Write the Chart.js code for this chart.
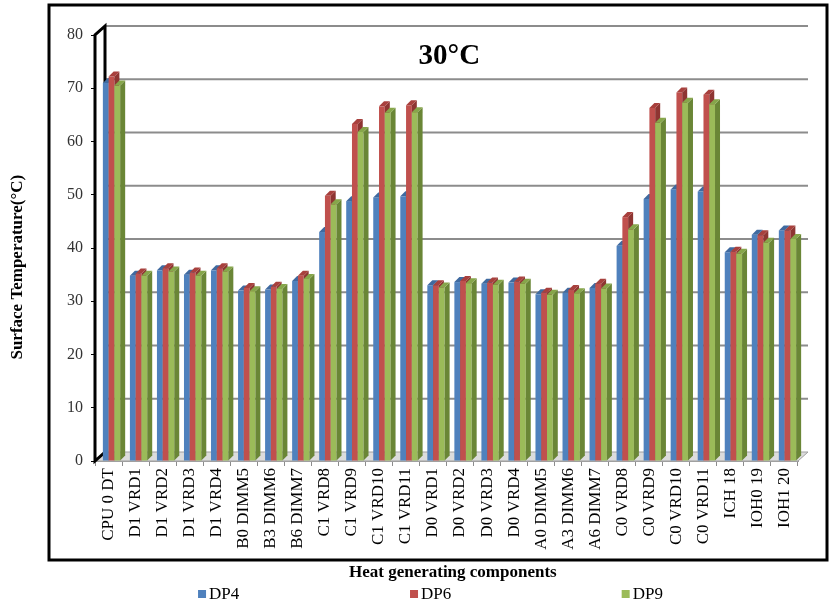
<!DOCTYPE html>
<html>
<head>
<meta charset="utf-8">
<script src="https://cdn.jsdelivr.net/npm/chart.js@4"></script>
<style>
html, body { margin: 0; padding: 0; background: #fff; }
</style>
</head>
<body>
<canvas id="chart" width="830" height="608"></canvas>
<script>
const categories = ['CPU 0 DT', 'D1 VRD1', 'D1 VRD2', 'D1 VRD3', 'D1 VRD4', 'B0 DIMM5', 'B3 DIMM6', 'B6 DIMM7',
    'C1 VRD8', 'C1 VRD9', 'C1 VRD10', 'C1 VRD11', 'D0 VRD1', 'D0 VRD2', 'D0 VRD3', 'D0 VRD4',
    'A0 DIMM5', 'A3 DIMM6', 'A6 DIMM7', 'C0 VRD8', 'C0 VRD9', 'C0 VRD10', 'C0 VRD11', 'ICH 18', 'IOH0 19', 'IOH1 20']
const dp4 = [71.0, 34.8, 35.8, 35.0, 35.8, 32.0, 32.2, 33.8, 43.0, 48.8, 49.5, 49.7, 33.0, 33.6, 33.3, 33.5,
    31.3, 31.6, 32.5, 40.4, 49.2, 51.0, 50.6, 39.2, 42.5, 43.3]
const dp6 = [72.2, 35.2, 36.2, 35.4, 36.2, 32.5, 32.7, 34.8, 49.8, 63.3, 66.6, 66.8, 33.0, 33.8, 33.5, 33.7,
    31.6, 32.1, 33.3, 45.8, 66.3, 69.2, 68.8, 39.3, 42.4, 43.3]
const dp9 = [70.5, 34.8, 35.6, 34.8, 35.6, 31.9, 32.3, 34.2, 48.2, 61.8, 65.4, 65.5, 32.6, 33.4, 33.1, 33.3,
    31.2, 31.5, 32.4, 43.5, 63.5, 67.3, 67.0, 38.9, 41.0, 41.7]
const yTicks = [0, 10, 20, 30, 40, 50, 60, 70, 80]

const serif = '"Liberation Serif", "Times New Roman", serif'
const DX = 10, DY = 9   // depth of walls
const BX = 5, BY = 5    // depth of bars
const SHIFT = 3         // bars sit a little back from the front edge

const fronts = ['#4f81bd', '#c0504d', '#9bbb59']
const sides = ['#36598a', '#8e3532', '#6a8636']
const tops = ['#3f6aa0', '#a8403d', '#86a64a']

// frame, floor, back gridlines and left wall
const walls = {
    id: 'walls',
    beforeDraw(chart) {
        const ctx = chart.ctx
        const a = chart.chartArea
        ctx.save()
        ctx.fillStyle = '#fff'
        ctx.fillRect(0, 0, chart.width, chart.height)
        ctx.strokeStyle = '#000'
        ctx.lineWidth = 3
        ctx.strokeRect(a.left - 46, a.top - 30, a.right - a.left + 75, a.bottom - a.top + 129)
        ctx.restore()
    },
    beforeDatasetsDraw(chart) {
        const ctx = chart.ctx
        const a = chart.chartArea
        const y = chart.scales.y
        ctx.save()
        // floor
        ctx.fillStyle = '#dcdcdc'
        ctx.strokeStyle = '#a0a0a0'
        ctx.lineWidth = 1
        ctx.beginPath()
        ctx.moveTo(a.left, a.bottom)
        ctx.lineTo(a.left + DX, a.bottom - DY)
        ctx.lineTo(a.right + DX, a.bottom - DY)
        ctx.lineTo(a.right, a.bottom)
        ctx.closePath()
        ctx.fill()
        ctx.stroke()
        // gridlines on the back wall
        ctx.strokeStyle = '#8c8c8c'
        ctx.lineWidth = 2
        yTicks.slice(1).forEach(v => {
            const py = y.getPixelForValue(v) - DY
            ctx.beginPath()
            ctx.moveTo(a.left + DX, py)
            ctx.lineTo(a.right + DX, py)
            ctx.stroke()
        })
        // left wall
        ctx.strokeStyle = '#000'
        ctx.lineWidth = 3
        ctx.beginPath()
        ctx.moveTo(a.left, a.bottom)
        ctx.lineTo(a.left, a.top)
        ctx.lineTo(a.left + DX, a.top - DY)
        ctx.lineTo(a.left + DX, a.bottom - DY)
        ctx.closePath()
        ctx.stroke()
        ctx.restore()
    }
}

// draw the bars with depth: DP4 first, DP9 last so each covers the side of the one before
const bars3d = {
    id: 'bars3d',
    beforeDatasetsDraw(chart) {
        const ctx = chart.ctx
        ctx.save()
        for (let i = 0; i < chart.data.datasets.length; i++) {
            chart.getDatasetMeta(i).data.forEach(bar => {
                const { x, y, base, width } = bar.getProps(['x', 'y', 'base', 'width'], true)
                const l = x - width / 2 + SHIFT, r = x + width / 2 + SHIFT
                ctx.fillStyle = fronts[i]
                ctx.fillRect(l, y, width, base - y)
                ctx.fillStyle = sides[i]
                ctx.beginPath()
                ctx.moveTo(r, y)
                ctx.lineTo(r + BX, y - BY)
                ctx.lineTo(r + BX, base - BY)
                ctx.lineTo(r, base)
                ctx.closePath()
                ctx.fill()
                ctx.fillStyle = tops[i]
                ctx.beginPath()
                ctx.moveTo(l, y)
                ctx.lineTo(l + BX, y - BY)
                ctx.lineTo(r + BX, y - BY)
                ctx.lineTo(r, y)
                ctx.closePath()
                ctx.fill()
            })
        }
        ctx.restore()
        return false
    }
}

// titles and the spread-out legend
const labels = {
    id: 'labels',
    afterDraw(chart) {
        const ctx = chart.ctx
        const a = chart.chartArea
        ctx.save()
        ctx.fillStyle = '#000'
        ctx.textAlign = 'center'
        ctx.textBaseline = 'middle'
        ctx.font = 'bold 29px ' + serif
        ctx.fillText('30°C', a.left + (a.right - a.left) * 0.504, a.top + 22)

        ctx.font = 'bold 17px ' + serif
        ctx.fillText('Heat generating components', a.left + (a.right - a.left) * 0.509, a.bottom + 112)

        ctx.save()
        ctx.translate(18, a.top + (a.bottom - a.top) * 0.545)
        ctx.rotate(-Math.PI / 2)
        ctx.fillText('Surface Temperature(°C)', 0, 0)
        ctx.restore()

        ctx.font = '17px ' + serif
        ctx.textAlign = 'left'
        const spots = [0.2386, 0.494, 0.749]
        chart.data.datasets.forEach((ds, i) => {
            const bx = chart.width * spots[i]
            const by = a.bottom + 133
            ctx.fillStyle = fronts[i]
            ctx.fillRect(bx, by - 4, 8, 8)
            ctx.fillStyle = '#000'
            ctx.fillText(ds.label, bx + 11, by + 1)
        })
        ctx.restore()
    }
}

new Chart(document.getElementById('chart'), {
    type: 'bar',
    data: {
        labels: categories,
        datasets: [
            { label: 'DP4', data: dp4, backgroundColor: fronts[0] },
            { label: 'DP6', data: dp6, backgroundColor: fronts[1] },
            { label: 'DP9', data: dp9, backgroundColor: fronts[2] }
        ]
    },
    options: {
        responsive: false,
        animation: false,
        layout: { padding: { top: 35, right: 32, bottom: 28, left: 0 } },
        datasets: { bar: { categoryPercentage: 0.64, barPercentage: 1.0, borderWidth: 0 } },
        plugins: {
            legend: { display: false },
            tooltip: { enabled: false }
        },
        scales: {
            x: {
                grid: { display: true, drawOnChartArea: false, drawTicks: true, tickLength: 5, color: '#8c8c8c' },
                border: { display: true, color: '#a0a0a0' },
                ticks: {
                    autoSkip: false, minRotation: 90, maxRotation: 90, padding: 2,
                    color: '#000', font: { family: serif, size: 17 }
                },
                afterFit: s => { s.height = 119 }
            },
            y: {
                min: 0, max: 80,
                afterBuildTicks: s => { s.ticks = yTicks.map(v => ({ value: v })) },
                grid: { drawOnChartArea: false, drawTicks: true, tickLength: 4, color: '#000' },
                border: { display: false },
                ticks: { color: '#333', font: { family: serif, size: 16 }, padding: 8 },
                afterFit: s => { s.width = 95 }
            }
        }
    },
    plugins: [walls, bars3d, labels]
})
</script>
</body>
</html>
